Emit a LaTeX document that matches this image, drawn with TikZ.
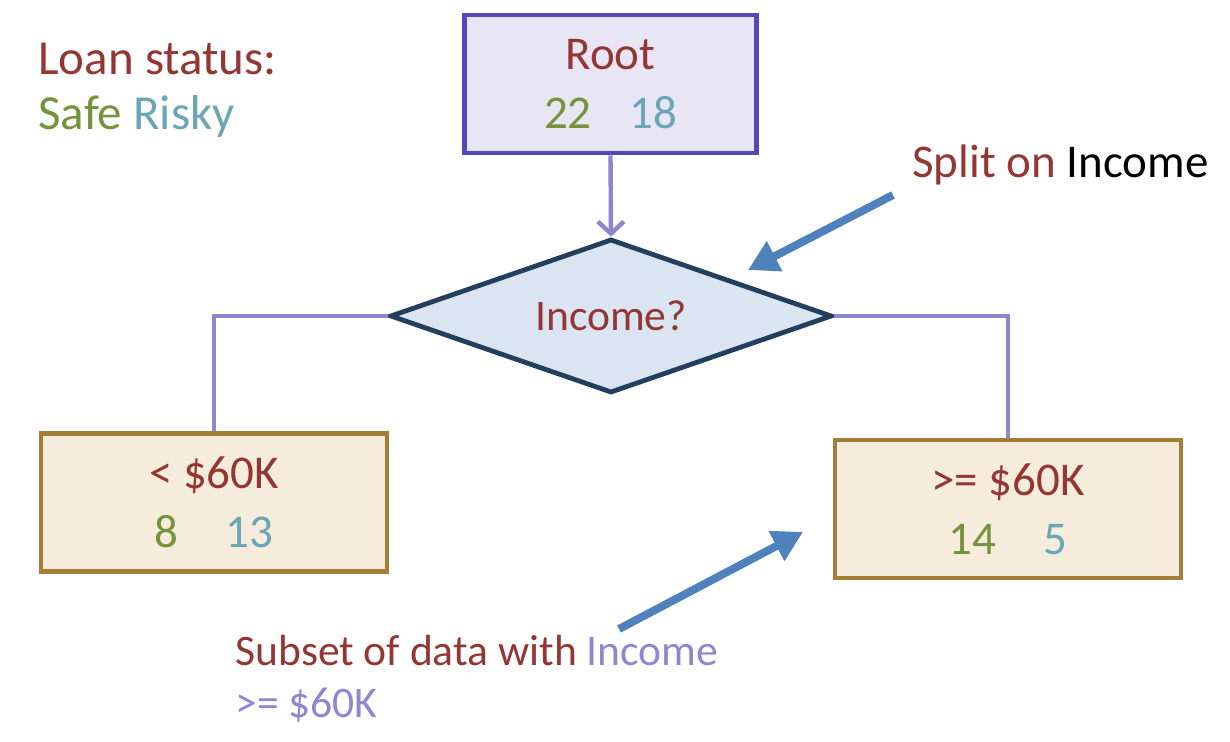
\documentclass[tikz,border=0pt]{standalone}
\usepackage{fontspec}
\setmainfont{Carlito}
\usetikzlibrary{shapes.geometric,arrows.meta}

\definecolor{dred}{HTML}{943634}
\definecolor{sgreen}{HTML}{76923C}
\definecolor{rteal}{HTML}{6AA6B6}
\definecolor{lavtext}{HTML}{8E86D2}
\definecolor{rootline}{HTML}{5548BA}
\definecolor{rootfill}{HTML}{E8E6F4}
\definecolor{qline}{HTML}{243F5E}
\definecolor{qfill}{HTML}{DAE5F1}
\definecolor{leafline}{HTML}{A67D36}
\definecolor{leaffill}{HTML}{F5ECDB}
\definecolor{callblue}{HTML}{4F81BD}

\newcommand{\bigtxt}{\fontsize{24.5}{29}\selectfont}
\newcommand{\boxtxt}{\fontsize{23.5}{29.5}\selectfont}
\newcommand{\smalltxt}{\fontsize{21.8}{26}\selectfont}

\begin{document}
\begin{tikzpicture}[x=0.5pt, y=-0.5pt,
  every node/.style = {align=center, inner sep=0pt},
  rootbox/.style = {draw=rootline, fill=rootfill, line width=2.4pt,
    minimum width=146pt, minimum height=69pt, font=\boxtxt},
  leafbox/.style = {draw=leafline, fill=leaffill, line width=2.4pt,
    minimum width=173pt, minimum height=69pt, font=\boxtxt},
  question/.style = {shape=diamond, shape aspect=2.87, draw=qline, fill=qfill,
    line width=2.4pt, minimum width=221pt, minimum height=77pt, font=\smalltxt},
  branch/.style = {draw=lavtext, line width=2.2pt},
  callout/.style = {draw=callblue, line width=4pt,
    -{Triangle[length=15pt, width=16pt, fill=callblue]}}]
  \useasboundingbox (0,0) rectangle (1230,742);

  \node[rootbox] (root) at (610.5,84)
    {\textcolor{dred}{Root}\\ \textcolor{sgreen}{22}\hspace{0.8em}\textcolor{rteal}{18}};
  \node[question, text=dred] (income) at (611,316) {Income?};
  \node[leafbox] (low) at (214,502.5)
    {\textcolor{dred}{< \$60K}\\ \textcolor{sgreen}{8}\quad\textcolor{rteal}{13}};
  \node[leafbox] (high) at (1008,509)
    {\textcolor{dred}{>= \$60K}\\ \textcolor{sgreen}{14}\quad\textcolor{rteal}{5}};

  \draw[branch, -{Straight Barb[length=6pt, width=13pt]}] (root.south) -- (income.north);
  \draw[branch] (income.west) -| (low.north);
  \draw[branch] (income.east) -| (high.north);

  \node[anchor=base west, font=\bigtxt, text=dred] (legtitle) at (38,75) {Loan status:};
  \node[anchor=base west, font=\bigtxt] (legkeys) at (38,130)
    {\textcolor{sgreen}{Safe} \textcolor{rteal}{Risky}};

  \node[anchor=base west, font=\boxtxt] (splitnote) at (912,178)
    {\textcolor{dred}{Split on} Income};
  \node[anchor=base west, font=\smalltxt, text=dred] (subsetnote) at (235,665)
    {Subset of data with \textcolor{lavtext}{Income}};
  \node[anchor=base west, font=\smalltxt, text=lavtext] (subsetval) at (235,717) {>= \$60K};

  \coordinate (splittail) at (893,195);
  \coordinate (splittip) at (748,270);
  \coordinate (subsettail) at (619,629);
  \coordinate (subsettip) at (803,532);
  \draw[callout] (splittail) -- (splittip);
  \draw[callout] (subsettail) -- (subsettip);
\end{tikzpicture}
\end{document}
